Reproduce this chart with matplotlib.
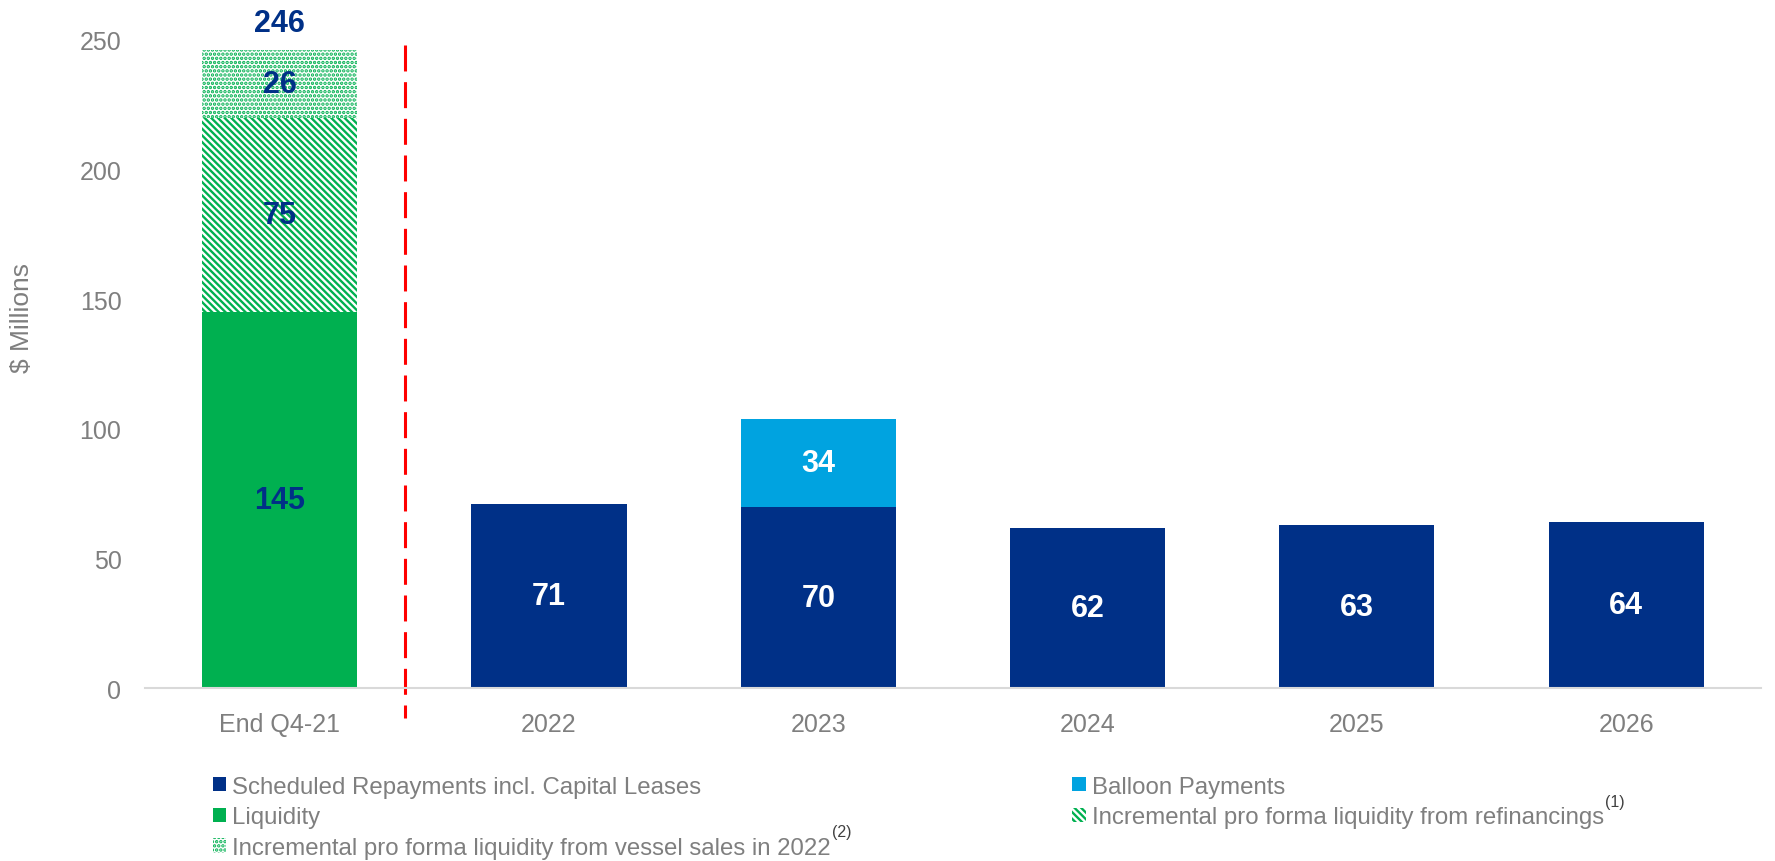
import matplotlib
matplotlib.use("Agg")
import matplotlib.pyplot as plt
from matplotlib.patches import Patch
import numpy as np

plt.rcParams['font.family'] = ['Liberation Sans', 'DejaVu Sans']
plt.rcParams['hatch.linewidth'] = 1.7

# data ($ millions)
categories = ['End Q4-21', '2022', '2023', '2024', '2025', '2026']
liquidity = [145]
refinancings = [75]
vessel_sales = [26]
scheduled = [71, 70, 62, 63, 64]
balloon = [0, 34, 0, 0, 0]

NAVY = '#003087'
GREEN = '#00B050'
LIGHT_BLUE = '#00A3E0'
GRAY = '#7f7f7f'
STRIPES = '\\' * 5
DOTS = '....'

fig = plt.figure(figsize=(17.75, 8.62), dpi=100)
ax = fig.add_axes([0.0817, 0.2002, 0.9103, 0.7525])

x = np.arange(len(categories))
w = 0.576

# liquidity stack for the first column
ax.bar(x[0], liquidity, w, color=GREEN, linewidth=0)
ax.bar(x[0], refinancings, w, bottom=liquidity, facecolor='white',
       edgecolor=GREEN, hatch=STRIPES, linewidth=0)
base2 = [liquidity[0] + refinancings[0]]
ax.bar(x[0], vessel_sales, w, bottom=base2, facecolor='white',
       edgecolor=GREEN, hatch=DOTS, linewidth=0)

# repayments
ax.bar(x[1:], scheduled, w, color=NAVY, linewidth=0)
ax.bar(x[1:], balloon, w, bottom=scheduled, color=LIGHT_BLUE, linewidth=0)

# segment labels
lab_kw = dict(ha='center', va='center', fontsize=22, fontweight='bold')
ax.text(x[0], liquidity[0] / 2, str(liquidity[0]), color=NAVY, **lab_kw)
ax.text(x[0], liquidity[0] + refinancings[0] / 2, str(refinancings[0]), color=NAVY, **lab_kw)
ax.text(x[0], base2[0] + vessel_sales[0] / 2, str(vessel_sales[0]), color=NAVY, **lab_kw)
total = liquidity[0] + refinancings[0] + vessel_sales[0]
ax.text(x[0], total + 10.5, str(total), color=NAVY, clip_on=False, **lab_kw)
for xi, s, b in zip(x[1:], scheduled, balloon):
    ax.text(xi, s / 2, str(s), color='white', **lab_kw)
    if b:
        ax.text(xi, s + b / 2, str(b), color='white', **lab_kw)

# separator between actual liquidity and future repayments
ax.plot([0.465, 0.465], [248, -11.4], color='#FF0000', lw=2.2,
        dashes=(8.5, 3.5), clip_on=False)

ax.set_xlim(-0.5, 5.5)
ax.set_ylim(0, 250)
ax.set_yticks(range(0, 251, 50))
ax.set_xticks(x)
ax.set_xticklabels(categories)
ax.tick_params(axis='both', length=0, labelsize=18, labelcolor=GRAY)
ax.tick_params(axis='x', pad=17)
ax.tick_params(axis='y', pad=17)
for s in ['top', 'right', 'left']:
    ax.spines[s].set_visible(False)
ax.spines['bottom'].set_color('#d9d9d9')
ax.spines['bottom'].set_linewidth(1.5)
ax.set_ylabel('$ Millions', fontsize=19, color=GRAY)
ax.yaxis.set_label_coords(-0.0687, 0.572)

handles = [
    Patch(facecolor=NAVY, linewidth=0),
    Patch(facecolor=GREEN, linewidth=0),
    Patch(facecolor='white', edgecolor=GREEN, hatch=DOTS, linewidth=0),
    Patch(facecolor=LIGHT_BLUE, linewidth=0),
    Patch(facecolor='white', edgecolor=GREEN, hatch=STRIPES, linewidth=0),
]
labels = [
    'Scheduled Repayments incl. Capital Leases',
    'Liquidity',
    'Incremental pro forma liquidity from vessel sales in 2022',
    'Balloon Payments',
    'Incremental pro forma liquidity from refinancings',
]
footnotes = {2: '(2)', 4: '(1)'}
leg = fig.legend(handles, labels, loc='upper left', bbox_to_anchor=(0.120, 0.099),
                 ncol=2, frameon=False, handlelength=0.55, handleheight=0.55,
                 handletextpad=0.25, labelspacing=0.36, columnspacing=10.05,
                 borderpad=0, borderaxespad=0, prop={'size': 17.3})
for t in leg.get_texts():
    t.set_color(GRAY)

# footnote markers next to the legend entries
fig.canvas.draw()
renderer = fig.canvas.get_renderer()
inv = fig.transFigure.inverted()
for i, mark in footnotes.items():
    bb = leg.get_texts()[i].get_window_extent(renderer)
    fx, fy = inv.transform((bb.x1 + 1, bb.y1 + 5))
    fig.text(fx, fy, mark, fontsize=11.5, color='#404040', ha='left', va='center')

fig.savefig('out.png', dpi=100)
